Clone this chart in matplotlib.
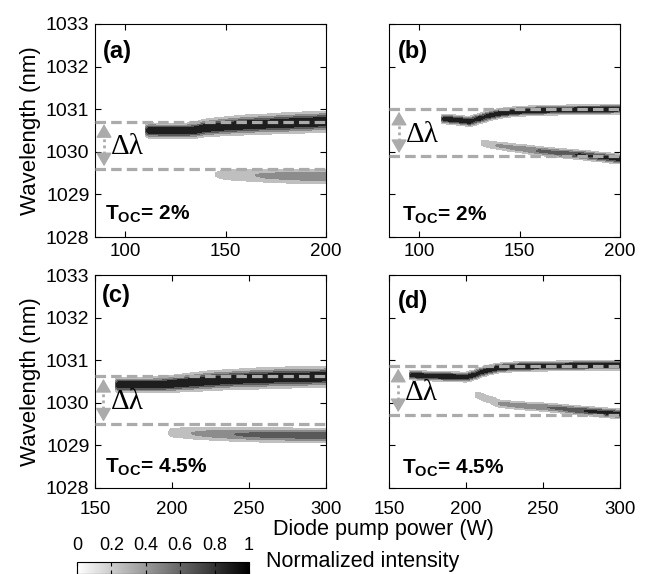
import matplotlib
matplotlib.use('Agg')
import matplotlib.pyplot as plt
import numpy as np
from matplotlib import cm, colors

plt.rcParams['font.family'] = ['Liberation Sans', 'DejaVu Sans']
plt.rcParams['mathtext.fontset'] = 'custom'
plt.rcParams['mathtext.rm'] = 'Liberation Sans'
plt.rcParams['mathtext.bf'] = 'Liberation Sans:bold'

# ---- data ----
# (a) T_OC = 2 %
a_up_pump = [110, 112, 120, 130, 135, 140, 150, 160, 170, 180, 190, 200]
a_up_center = [1030.50, 1030.50, 1030.49, 1030.49, 1030.51, 1030.56, 1030.60, 1030.63, 1030.65, 1030.67, 1030.69, 1030.71]
a_up_amp = [0.6, 1, 1, 1, 1, 1, 1, 1, 1, 1, 1, 1]
a_up_width = [0.12, 0.13, 0.13, 0.13, 0.14, 0.15, 0.16, 0.17, 0.17, 0.18, 0.18, 0.18]
a_lo_pump = [145, 150, 160, 165, 170, 180, 190, 200]
a_lo_center = [1029.47, 1029.46, 1029.45, 1029.45, 1029.44, 1029.43, 1029.42, 1029.42]
a_lo_amp = [0.16, 0.25, 0.32, 0.35, 0.40, 0.45, 0.48, 0.50]
a_lo_width = [0.155] * 8

# (b) T_OC = 2 %
b_up_pump = [111, 113, 120, 125, 130, 135, 140, 145, 150, 160, 170, 180, 190, 200]
b_up_center = [1030.77, 1030.77, 1030.74, 1030.71, 1030.78, 1030.85, 1030.90, 1030.93, 1030.95, 1030.97, 1030.98, 1030.99, 1030.99, 1031.00]
b_up_amp = [0.6, 0.95, 0.95, 0.95, 0.95, 0.95, 0.95, 0.95, 0.95, 0.95, 0.95, 0.95, 0.95, 0.95]
b_up_width = [0.085] * 14
b_lo_pump = [131, 133, 140, 150, 160, 170, 180, 190, 200]
b_lo_center = [1030.21, 1030.19, 1030.14, 1030.08, 1030.02, 1029.97, 1029.93, 1029.88, 1029.83]
b_lo_amp = [0.2, 0.3, 0.4, 0.5, 0.6, 0.7, 0.8, 0.85, 0.9]
b_lo_width = [0.085] * 9

# (c) T_OC = 4.5 %
c_up_pump = [163, 165, 175, 185, 195, 205, 215, 225, 240, 255, 270, 285, 300]
c_up_center = [1030.42, 1030.42, 1030.42, 1030.42, 1030.43, 1030.46, 1030.49, 1030.52, 1030.55, 1030.57, 1030.59, 1030.60, 1030.61]
c_up_amp = [0.6, 1, 1, 1, 1, 1, 1, 1, 1, 1, 1, 1, 1]
c_up_width = [0.12, 0.13, 0.13, 0.13, 0.14, 0.15, 0.16, 0.17, 0.17, 0.18, 0.18, 0.18, 0.18]
c_lo_pump = [198, 200, 210, 215, 230, 250, 270, 300]
c_lo_center = [1029.30, 1029.30, 1029.29, 1029.28, 1029.27, 1029.25, 1029.24, 1029.23]
c_lo_amp = [0.16, 0.25, 0.33, 0.37, 0.50, 0.60, 0.66, 0.70]
c_lo_width = [0.14] * 8

# (d) T_OC = 4.5 %
d_up_pump = [163, 165, 175, 185, 195, 200, 205, 210, 215, 220, 225, 235, 250, 265, 280, 300]
d_up_center = [1030.65, 1030.65, 1030.63, 1030.62, 1030.61, 1030.60, 1030.65, 1030.72, 1030.77, 1030.81, 1030.83, 1030.85, 1030.86, 1030.87, 1030.88, 1030.88]
d_up_amp = [0.6] + [0.95] * 15
d_up_width = [0.085] * 16
d_lo_pump = [206, 208, 215, 222, 230, 240, 250, 260, 270, 280, 290, 300]
d_lo_center = [1030.19, 1030.17, 1030.08, 1029.98, 1029.95, 1029.92, 1029.90, 1029.87, 1029.83, 1029.80, 1029.77, 1029.74]
d_lo_amp = [0.2, 0.3, 0.35, 0.4, 0.45, 0.5, 0.55, 0.6, 0.7, 0.8, 0.85, 0.9]
d_lo_width = [0.085] * 12

# dashed guide lines (upper, lower) per panel
dash_a = [1030.71, 1029.60]
dash_b = [1031.00, 1029.91]
dash_c = [1030.62, 1029.50]
dash_d = [1030.86, 1029.72]

labels = ['(a)', '(b)', '(c)', '(d)']
toc = ['2%', '2%', '4.5%', '4.5%']

W, H = 649, 574
fig = plt.figure(figsize=(W / 100, H / 100), dpi=100)

lam = np.linspace(1028, 1033, 601)
levels = [0.15, 0.35, 0.55, 0.75, 1.01]
norm = colors.Normalize(0, 1)
guide = '#ababab'


def band(ax, pump, center, amp, width):
    pump = np.asarray(pump, float)
    center = np.asarray(center, float)
    amp = np.asarray(amp, float)
    width = np.asarray(width, float)
    z = amp[None, :] * np.exp(-((lam[:, None] - center[None, :]) / width[None, :]) ** 2)
    ax.contourf(pump, lam, z, levels=levels, cmap='gray_r', norm=norm)


def panel(rect, xlim, xticks, lines, dash, label, tocs, arrow_x, txt_x, lab_pos, toc_pos,
          ylabels, xpad):
    ax = fig.add_axes(rect)
    for ln in lines:
        band(ax, *ln)
    for yv in dash:
        ax.axhline(yv, color=guide, lw=2.3, dashes=(3.3, 1.6), zorder=5)
    # double arrow: dotted shaft + two solid heads
    top, bot = dash[0] - 0.06, dash[1] + 0.06
    ax.plot([arrow_x, arrow_x], [bot + 0.15, top - 0.15], color=guide, lw=2,
            ls=(0, (1, 1.2)), zorder=6)
    for tip, tail in ((top, top - 0.22), (bot, bot + 0.22)):
        ax.annotate('', xy=(arrow_x, tip), xytext=(arrow_x, tail),
                    arrowprops=dict(arrowstyle='-|>,head_length=0.6,head_width=0.35', color=guide,
                                    lw=1, mutation_scale=14, shrinkA=0, shrinkB=0), zorder=6)
    ax.text(txt_x, (dash[0] + dash[1]) / 2 - 0.05, 'Δλ', fontsize=21, va='center', ha='left',
            family=['Liberation Serif', 'DejaVu Serif'])
    ax.text(lab_pos[0], lab_pos[1], label, transform=ax.transAxes, fontsize=17,
            fontweight='bold', va='center', ha='left')
    ax.text(toc_pos[0], toc_pos[1], r'$\mathbf{T}_{\mathbf{OC}}$= ' + tocs,
            transform=ax.transAxes, fontsize=15, fontweight='bold', va='center', ha='left')
    ax.set_xlim(xlim)
    ax.set_ylim(1028, 1033)
    ax.set_xticks(xticks)
    ax.set_yticks(range(1028, 1034))
    ax.tick_params(direction='in', top=True, right=True, length=4)
    ax.tick_params(axis='x', pad=xpad, labelsize=13.5)
    ax.tick_params(axis='y', labelsize=14, pad=4)
    if ylabels:
        ax.set_ylabel('Wavelength (nm)', fontsize=16)
        ax.yaxis.set_label_coords(-0.235, 0.5)
    else:
        ax.set_yticklabels([])
    return ax


aw, ah = 231 / W, 213 / H
panel([95 / W, 1 - 237 / H, aw, ah], (85, 200), [100, 150, 200],
      [(a_up_pump, a_up_center, a_up_amp, a_up_width), (a_lo_pump, a_lo_center, a_lo_amp, a_lo_width)],
      dash_a, labels[0], toc[0], 89.5, 93, (0.035, 0.87), (0.043, 0.105), True, 4)
panel([389 / W, 1 - 237 / H, aw, ah], (85, 200), [100, 150, 200],
      [(b_up_pump, b_up_center, b_up_amp, b_up_width), (b_lo_pump, b_lo_center, b_lo_amp, b_lo_width)],
      dash_b, labels[1], toc[1], 90, 93.5, (0.039, 0.87), (0.056, 0.10), False, 4)
panel([95 / W, 1 - 488 / H, aw, ah], (150, 300), [150, 200, 250, 300],
      [(c_up_pump, c_up_center, c_up_amp, c_up_width), (c_lo_pump, c_lo_center, c_lo_amp, c_lo_width)],
      dash_c, labels[2], toc[2], 155.5, 160.5, (0.03, 0.905), (0.043, 0.10), True, 9)
panel([389 / W, 1 - 488 / H, aw, ah], (150, 300), [150, 200, 250, 300],
      [(d_up_pump, d_up_center, d_up_amp, d_up_width), (d_lo_pump, d_lo_center, d_lo_amp, d_lo_width)],
      dash_d, labels[3], toc[3], 156, 160.5, (0.039, 0.875), (0.056, 0.095), False, 9)

fig.text(383 / W, 1 - 529 / H, 'Diode pump power (W)', fontsize=15.5, ha='center', va='center')
fig.text(266 / W, 1 - 562 / H, 'Normalized intensity', fontsize=15.5, ha='left', va='center')

cax = fig.add_axes([77 / W, 0, 172 / W, 12 / H])
sm = cm.ScalarMappable(norm=norm, cmap='gray_r')
cb = fig.colorbar(sm, cax=cax, orientation='horizontal', ticklocation='top')
cb.set_ticks([0, 0.2, 0.4, 0.6, 0.8, 1])
cb.set_ticklabels(['0', '0.2', '0.4', '0.6', '0.8', '1'])
cax.tick_params(direction='in', length=3, labelsize=13, pad=6, top=True, bottom=True)

fig.savefig('out.png', dpi=100)
